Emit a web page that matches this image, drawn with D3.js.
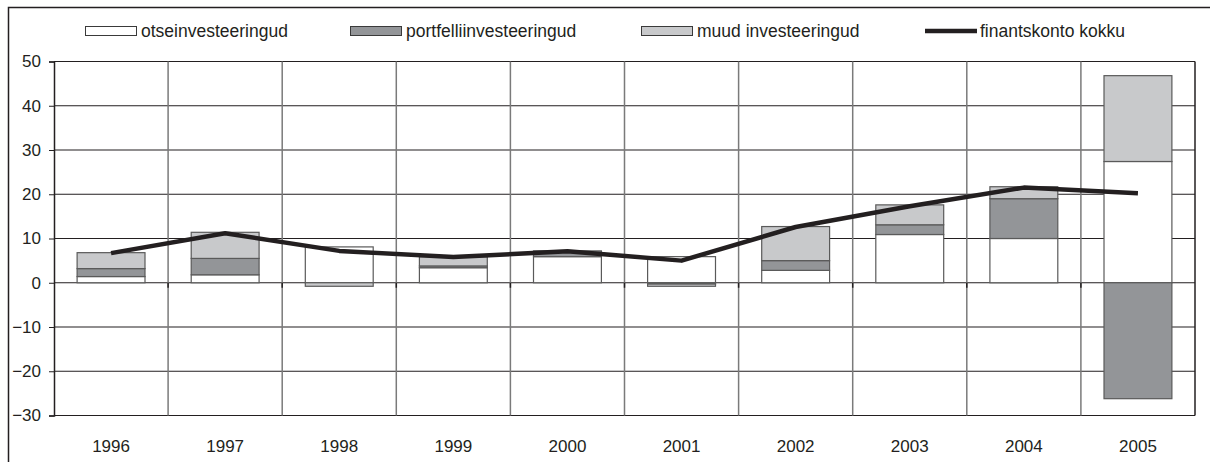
<!DOCTYPE html>
<html>
<head>
  <meta charset="utf-8">
  <title>Finantskonto</title>
  <script src="https://cdn.jsdelivr.net/npm/d3@7"></script>
  <style>
    body { margin: 0; background: #fff; }
    text { font-family: Arial, "Liberation Sans", sans-serif; fill: #231f20; }
  </style>
</head>
<body>
<svg id="chart" width="1210" height="462"></svg>
<script>
  // data
  var years = ['1996','1997','1998','1999','2000','2001','2002','2003','2004','2005']
  var otse = [1.4, 1.8, 8.1, 3.4, 5.9, 5.9, 2.8, 10.9, 10.0, 27.4]
  var portfell = [1.8, 3.7, 0, 0.4, 1.3, -0.3, 2.2, 2.2, 9.0, -26.2]
  var muud = [3.6, 5.9, -0.8, 2.1, 0, -0.5, 7.7, 4.5, 2.7, 19.4]
  var kokku = [6.7, 11.2, 7.2, 5.8, 7.1, 5.0, 12.6, 17.3, 21.5, 20.2]
  var yTicks = [-30, -20, -10, 0, 10, 20, 30, 40, 50]
  var seriesNames = ['otseinvesteeringud', 'portfelliinvesteeringud', 'muud investeeringud']
  var lineName = 'finantskonto kokku'

  var colors = ['#ffffff', '#939598', '#c8c9cb']
  var svg = d3.select('#chart')

  // outer frame (left and top only visible)
  svg.append('path')
    .attr('d', 'M8.5,470 V7.5 H1215')
    .attr('fill', 'none').attr('stroke', '#231f20').attr('stroke-width', 1.5)

  var x = d3.scaleBand().domain(years).range([54, 1195]).padding(0)
  var y = d3.scaleLinear().domain([-30, 50]).range([415.5, 61.5])
  var barW = x.bandwidth() * 0.595

  // horizontal gridlines
  svg.append('g').selectAll('line').data(yTicks).enter().append('line')
    .attr('x1', 54).attr('x2', 1195)
    .attr('y1', function (d) { return y(d) }).attr('y2', function (d) { return y(d) })
    .attr('stroke', '#231f20').attr('stroke-width', 1.2)
  // vertical category lines
  svg.append('g').selectAll('line').data(years.slice(1)).enter().append('line')
    .attr('x1', function (d) { return x(d) }).attr('x2', function (d) { return x(d) })
    .attr('y1', y(50)).attr('y2', y(-30))
    .attr('stroke', '#7a7a7a').attr('stroke-width', 1.5)

  // y axis
  var yAxis = d3.axisLeft(y).tickValues(yTicks).tickSize(5).tickPadding(8)
  var ya = svg.append('g').attr('transform', 'translate(54,0)').call(yAxis)
  ya.select('.domain').attr('stroke', '#231f20').attr('stroke-width', 1.5)
  ya.selectAll('.tick line').attr('stroke', '#231f20')
  ya.selectAll('text').style('font-size', '17px').attr('fill', '#231f20')
  // right border
  svg.append('line').attr('x1', 1195).attr('x2', 1195).attr('y1', y(50)).attr('y2', y(-30))
    .attr('stroke', '#231f20').attr('stroke-width', 1.5)

  // stacked bars
  var table = years.map(function (yr, i) {
    return { year: yr, s0: otse[i], s1: portfell[i], s2: muud[i] }
  })
  var stack = d3.stack().keys(['s0', 's1', 's2']).offset(d3.stackOffsetDiverging)
  var layers = stack(table)
  svg.append('g').selectAll('g').data(layers).enter().append('g')
    .attr('fill', function (d, i) { return colors[i] })
    .selectAll('rect').data(function (d) { return d }).enter().append('rect')
    .attr('x', function (d) { return x(d.data.year) + (x.bandwidth() - barW) / 2 })
    .attr('width', barW)
    .attr('y', function (d) { return y(Math.max(d[0], d[1])) })
    .attr('height', function (d) { return Math.abs(y(d[0]) - y(d[1])) })
    .attr('stroke', '#5a5a5a').attr('stroke-width', 1.2)

  // category axis at zero
  svg.append('g').selectAll('line').data(years.slice(1)).enter().append('line')
    .attr('x1', function (d) { return x(d) }).attr('x2', function (d) { return x(d) })
    .attr('y1', y(0)).attr('y2', y(0) + 5)
    .attr('stroke', '#231f20').attr('stroke-width', 1.5)

  // x labels at the bottom
  svg.append('g').selectAll('text').data(years).enter().append('text')
    .attr('x', function (d) { return x(d) + x.bandwidth() / 2 })
    .attr('y', 452)
    .attr('text-anchor', 'middle')
    .style('font-size', '17px')
    .text(function (d) { return d })

  // total line
  var line = d3.line()
    .x(function (d, i) { return x(years[i]) + x.bandwidth() / 2 })
    .y(function (d) { return y(d) })
  svg.append('path').datum(kokku)
    .attr('d', line)
    .attr('fill', 'none').attr('stroke', '#231f20').attr('stroke-width', 4.5)
    .attr('stroke-linejoin', 'round')

  // legend
  var legX = [85, 350, 641]
  var leg = svg.append('g')
  seriesNames.forEach(function (name, i) {
    leg.append('rect').attr('x', legX[i] + 0.5).attr('y', 26.5).attr('width', 51).attr('height', 9)
      .attr('fill', colors[i]).attr('stroke', '#3a3a3a').attr('stroke-width', 1)
    leg.append('text').attr('x', legX[i] + 56).attr('y', 37).style('font-size', '17.5px').text(name)
  })
  leg.append('line').attr('x1', 925).attr('x2', 977).attr('y1', 31).attr('y2', 31)
    .attr('stroke', '#231f20').attr('stroke-width', 4.5)
  leg.append('text').attr('x', 980).attr('y', 37).style('font-size', '17.5px').text(lineName)
</script>
</body>
</html>
